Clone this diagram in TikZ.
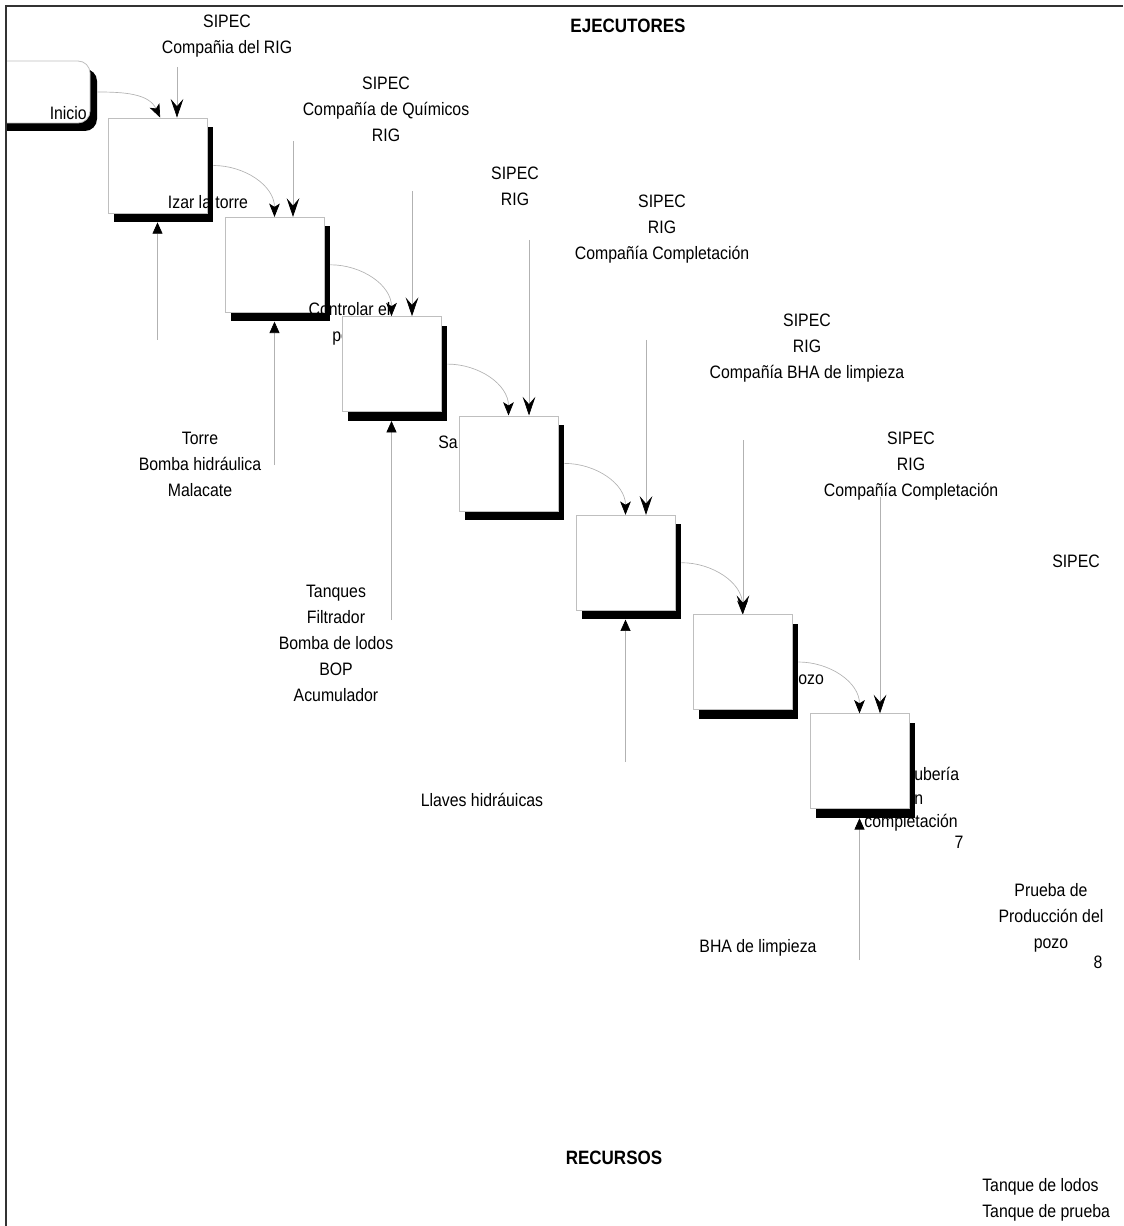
\documentclass[tikz,border=0pt]{standalone}
\usepackage{fontspec}
\setmainfont{Liberation Sans}[FakeStretch=0.88]
\usepackage{tikz}
\usetikzlibrary{arrows.meta,shadows}
\def\pasow{74.25pt}
\def\pasoh{71.25pt}

\begin{document}
\begin{tikzpicture}[x=0.75pt,y=-0.75pt,font=\fontsize{13.5}{19.5}\selectfont]
		\tikzstyle{paso}=[rectangle,draw=black!25,line width=0.6pt,fill=white,minimum width=\pasow,minimum height=\pasoh,inner sep=0pt,drop shadow={shadow xshift=4.5pt,shadow yshift=-6.75pt,fill=black,opacity=1}]
		\tikzstyle{inicio}=[rectangle,rounded corners=9pt,draw=black!25,line width=0.6pt,fill=white,minimum width=82.5pt,minimum height=46.5pt,inner sep=0pt,drop shadow={shadow xshift=5.25pt,shadow yshift=-6pt,fill=black,opacity=1}]
		\tikzstyle{texto}=[align=center,inner sep=0pt]
		\tikzstyle{titulo}=[texto,font=\fontsize{14.5}{16}\selectfont\bfseries]
		\tikzstyle{flujo}=[draw=black!30,line width=0.5pt,-{Stealth[black,length=10pt,width=8pt,inset=2.5pt]}]
		\tikzstyle{ejecutor}=[draw=black!30,line width=0.5pt,-{Stealth[black,length=14pt,width=9.5pt,inset=5.5pt]}]
		\tikzstyle{recurso}=[draw=black!30,line width=0.5pt,-{Triangle[black,length=8.5pt,width=7.5pt]},shorten >=6.75pt]

		\useasboundingbox (0,0) rectangle (1123,1226);

		\node[titulo] (EJE) at (628,26) {EJECUTORES};
		\node[titulo] (REC) at (614,1158) {RECURSOS};

		\begin{scope}
			\clip (7,0) rectangle (200,200);
			\node[inicio] (INI) at (35,92) {};
		\end{scope}
		\node[texto,anchor=east] (INI-t) at (87,113) {Inicio};

		\node[paso] (P-1) at (157.5,165.5) {};
		\node[texto] (P-1-t) at (208,202) {Izar la torre};
		\node[paso] (P-2) at (274.5,264.8) {};
		\node[texto] (P-2-t) at (349.5,323.5) {Controlar el\\pozo};
		\node[paso] (P-3) at (391.5,364.1) {};
		\node[texto,anchor=east] (P-3-t) at (458,442) {Sa};
		\node[paso] (P-4) at (508.5,463.4) {};
		\node[paso] (P-5) at (625.5,562.7) {};
		\node[paso] (P-6) at (742.5,662) {};
		\node[texto,anchor=west] (P-6-t) at (798,680) {ozo};
		\node[paso] (P-7) at (859.5,761.3) {};
		\node[texto,anchor=west] (P-7-a) at (914,774) {ubería};
		\node[texto,anchor=west] (P-7-b) at (914,800) {n};
		\node[texto] (P-7-c) at (911,823) {completación};
		\node[texto] (P-7-n) at (959,842) {7};
		\node[texto] (P-8) at (1051,918) {Prueba de\\Producción del\\pozo};
		\node[texto] (P-8-n) at (1098,962) {8};

		\node[texto] (E-1) at (227,36.5) {SIPEC\\Compañia del RIG};
		\node[texto] (E-2) at (386,109.5) {SIPEC\\Compañía de Químicos\\RIG};
		\node[texto] (E-3) at (515,186.5) {SIPEC\\RIG};
		\node[texto] (E-4) at (662,229.5) {SIPEC\\RIG\\Compañía Completación};
		\node[texto] (E-5) at (807,348) {SIPEC\\RIG\\Compañía BHA de limpieza};
		\node[texto] (E-6) at (911,466.5) {SIPEC\\RIG\\Compañía Completación};
		\node[texto] (E-7) at (1076,561) {SIPEC};

		\node[texto] (R-1) at (200,464) {Torre\\Bomba hidráulica\\Malacate};
		\node[texto] (R-2) at (336,643) {Tanques\\Filtrador\\Bomba de lodos\\BOP\\Acumulador};
		\node[texto] (R-5) at (482,800) {Llaves hidráuicas};
		\node[texto] (R-7) at (758,948) {BHA de limpieza};
		\node[texto,align=left,anchor=west] (R-8) at (982,1200) {Tanque de lodos\\Tanque de prueba};

		\coordinate (E-1-c) at (177,67);
		\coordinate (E-2-c) at (293,141);
		\coordinate (E-3-c) at (412,191);
		\coordinate (E-4-c) at (529,240);
		\coordinate (E-5-c) at (646,340);
		\coordinate (E-6-c) at (743,440);
		\coordinate (E-7-c) at (880,497);
		\coordinate (R-1-c) at (157.5,340);
		\coordinate (R-2-c) at (274.5,465);
		\coordinate (R-3-c) at (391.5,620);
		\coordinate (R-5-c) at (625.5,762);
		\coordinate (R-7-c) at (859.5,960);

		\draw[flujo] ([xshift=5.25pt]INI.east) to[out=0,in=115] ([xshift=2pt]P-1.north);
		\draw[flujo] ([xshift=4.5pt]P-1.east) to[out=0,in=90] (P-2.north);
		\draw[flujo] ([xshift=4.5pt]P-2.east) to[out=0,in=90] (P-3.north);
		\draw[flujo] ([xshift=4.5pt]P-3.east) to[out=0,in=90] (P-4.north);
		\draw[flujo] ([xshift=4.5pt]P-4.east) to[out=0,in=90] (P-5.north);
		\draw[flujo] ([xshift=4.5pt]P-5.east) to[out=0,in=90] (P-6.north);
		\draw[flujo] ([xshift=4.5pt]P-6.east) to[out=0,in=90] (P-7.north);

		\draw[ejecutor] (E-1-c) -- (E-1-c |- P-1.north);
		\draw[ejecutor] (E-2-c) -- (E-2-c |- P-2.north);
		\draw[ejecutor] (E-3-c) -- (E-3-c |- P-3.north);
		\draw[ejecutor] (E-4-c) -- (E-4-c |- P-4.north);
		\draw[ejecutor] (E-5-c) -- (E-5-c |- P-5.north);
		\draw[ejecutor] (E-6-c) -- (E-6-c |- P-6.north);
		\draw[ejecutor] (E-7-c) -- (E-7-c |- P-7.north);

		\draw[recurso] (R-1-c) -- (P-1.south);
		\draw[recurso] (R-2-c) -- (P-2.south);
		\draw[recurso] (R-3-c) -- (P-3.south);
		\draw[recurso] (R-5-c) -- (P-5.south);
		\draw[recurso] (R-7-c) -- (P-7.south);

		\draw[line width=1.5pt,black!80] (6,1226) -- (6,6) -- (1123,6);
	\end{tikzpicture}
\end{document}
